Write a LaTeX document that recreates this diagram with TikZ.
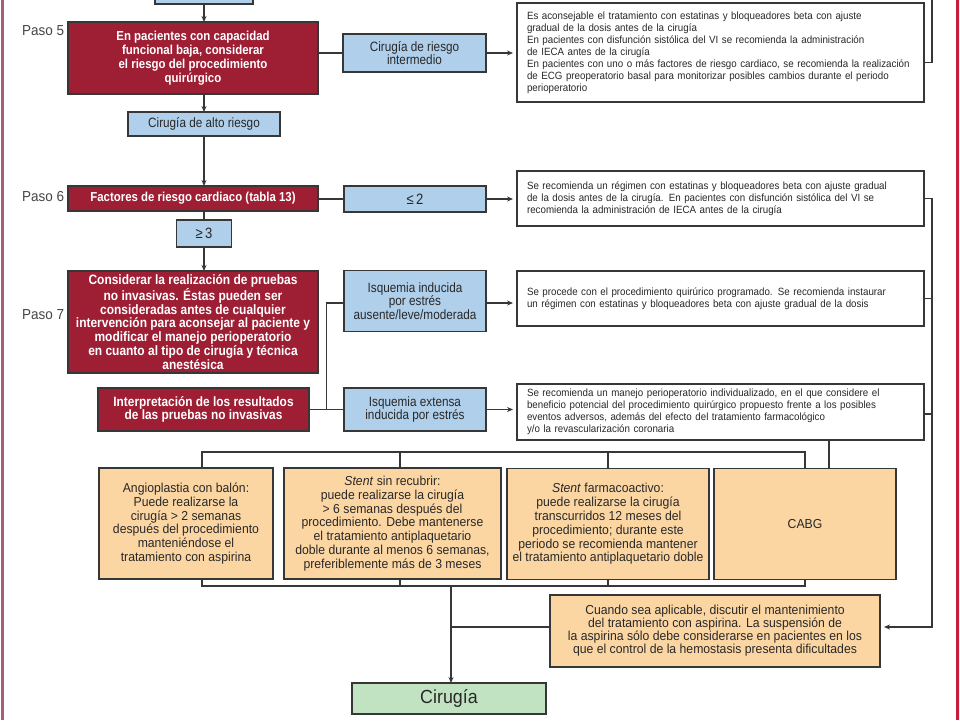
\documentclass[tikz,border=0pt]{standalone}
\usepackage{fontspec}
\setmainfont{Liberation Sans}
\newfontfamily\redfont[FakeStretch=0.88]{Liberation Sans}
\newfontfamily\bluefont[FakeStretch=0.87]{Liberation Sans}
\newfontfamily\whitefont[FakeStretch=0.93]{Liberation Sans}
\newfontfamily\orfont[FakeStretch=0.94]{Liberation Sans}
\newfontfamily\pasofont[FakeStretch=0.93]{Liberation Sans}
\usetikzlibrary{arrows.meta,calc}
\definecolor{redc}{RGB}{158,30,52}
\definecolor{bluec}{RGB}{175,207,235}
\definecolor{orc}{RGB}{251,214,163}
\definecolor{greenc}{RGB}{193,227,193}
\definecolor{linec}{RGB}{55,55,55}
\definecolor{textc}{RGB}{40,40,40}
\definecolor{pasoc}{RGB}{70,70,70}
\definecolor{leftc}{RGB}{165,95,125}
\definecolor{rightc}{RGB}{200,30,60}
\begin{document}
\begin{tikzpicture}[x=1pt,y=-1pt,
  box/.style={draw=linec, line width=1.1pt, inner sep=0pt, outer sep=0pt},
  redbox/.style={box, fill=redc, text=white, align=center, font=\redfont\bfseries\fontsize{13}{14}\selectfont},
  bluebox/.style={box, fill=bluec, text=textc, align=center, font=\bluefont\fontsize{13.5}{13.5}\selectfont},
  notebox/.style={box, fill=white, text=textc, align=left, inner xsep=10pt, text width=387pt, font=\whitefont\fontsize{10.5}{12}\selectfont},
  orbox/.style={box, fill=orc, text=textc, align=center, font=\orfont\fontsize{13}{13.8}\selectfont},
  greenbox/.style={box, fill=greenc, text=textc, align=center, font=\orfont\fontsize{19}{21}\selectfont},
  paso/.style={anchor=west, text=pasoc, inner sep=0pt, font=\pasofont\fontsize{14.5}{16}\selectfont},
  conn/.style={draw=linec, line width=1.1pt},
  arr/.style={conn, -{Stealth[length=6pt,width=5pt]}},
  arrg/.style={arr, shorten >=4pt}]
\clip (0,0) rectangle (960,720);
\fill[white] (0,0) rectangle (960,720);
% page borders
\draw[leftc, line width=3pt] (2.5,0) -- (2.5,720);
\draw[rightc, line width=2.5pt] (957.5,0) -- (957.5,720);

% Paso 5
\node[bluebox, minimum width=98pt, minimum height=24pt] (top) at (204,-8) {};
\node[paso] (l5) at (22,31) {Paso 5};
\node[redbox, minimum width=250pt, minimum height=72pt] (p5) at (193,58)
  {En pacientes con capacidad\\ funcional baja, considerar\\ el riesgo del procedimiento\\ quirúrgico};
\node[bluebox, minimum width=143pt, minimum height=38pt] (cia) at (414.5,53)
  {Cirugía de riesgo\\ intermedio};
\node[notebox, minimum height=99pt] (box1) at (720.5,52.5)
  {Es aconsejable el tratamiento con estatinas y bloqueadores beta con ajuste\\
   gradual de la dosis antes de la cirugía\\
   En pacientes con disfunción sistólica del VI se recomienda la administración\\
   de IECA antes de la cirugía\\
   En pacientes con uno o más factores de riesgo cardiaco, se recomienda la realización\\
   de ECG preoperatorio basal para monitorizar posibles cambios durante el periodo\\
   perioperatorio};
\node[bluebox, minimum width=152pt, minimum height=24pt] (ar) at (204,124)
  {Cirugía de alto riesgo};

% Paso 6
\node[paso] (l6) at (22,197) {Paso 6};
\node[redbox, minimum width=250pt, minimum height=25pt] (p6) at (193,198.5)
  {Factores de riesgo cardiaco (tabla 13)};
\node[bluebox, minimum width=142pt, minimum height=26pt, font=\bluefont\fontsize{15}{15}\selectfont] (le2) at (415,199) {≤\,2};
\node[notebox, minimum height=55pt] (box2) at (720.5,198.5)
  {Se recomienda un régimen con estatinas y bloqueadores beta con ajuste gradual\\
   de la dosis antes de la cirugía. En pacientes con disfunción sistólica del VI se\\
   recomienda la administración de IECA antes de la cirugía};
\node[bluebox, minimum width=55pt, minimum height=27pt, font=\bluefont\fontsize{15}{15}\selectfont] (ge3) at (204,233.5) {≥\,3};

% Paso 7
\node[paso] (l7) at (22,315) {Paso 7};
\node[redbox, minimum width=250pt, minimum height=102pt, font=\redfont\bfseries\fontsize{13.6}{11.6}\selectfont] (p7) at (193,322)
  {Considerar la realización de pruebas\\ no invasivas. Éstas pueden ser\\ consideradas antes de cualquier\\ intervención para aconsejar al paciente y\\ modificar el manejo perioperatorio\\ en cuanto al tipo de cirugía y técnica\\ anestésica};
\node[redbox, minimum width=211pt, minimum height=43pt, font=\redfont\bfseries\fontsize{13.5}{13}\selectfont] (interp) at (203.5,409.5)
  {Interpretación de los resultados\\ de las pruebas no invasivas};
\node[bluebox, minimum width=142pt, minimum height=61pt, font=\bluefont\fontsize{13.5}{12.5}\selectfont] (isq1) at (415,301)
  {Isquemia inducida\\ por estrés\\ ausente/leve/moderada};
\node[bluebox, minimum width=142pt, minimum height=43pt] (isq2) at (415,409.5)
  {Isquemia extensa\\ inducida por estrés};
\node[notebox, minimum height=55pt] (box3) at (720.5,298.5)
  {Se procede con el procedimiento quirúrico programado. Se recomienda instaurar\\
   un régimen con estatinas y bloqueadores beta con ajuste gradual de la dosis};
\node[notebox, minimum height=56pt] (box5) at (720.5,412)
  {Se recomienda un manejo perioperatorio individualizado, en el que considere el\\
   beneficio potencial del procedimiento quirúrgico propuesto frente a los posibles\\
   eventos adversos, además del efecto del tratamiento farmacológico\\
   y/o la revascularización coronaria};

% orange boxes
\node[orbox, minimum width=174pt, minimum height=111pt] (angio) at (186,523.5)
  {Angioplastia con balón:\\ Puede realizarse la\\ cirugía > 2 semanas\\ después del procedimiento\\ manteniéndose el\\ tratamiento con aspirina};
\node[orbox, minimum width=217pt, minimum height=111pt] (st1) at (392.5,523.5)
  {\textit{Stent} sin recubrir:\\ puede realizarse la cirugía\\ > 6 semanas después del\\ procedimiento. Debe mantenerse\\ el tratamiento antiplaquetario\\ doble durante al menos 6 semanas,\\ preferiblemente más de 3 meses};
\node[orbox, minimum width=202pt, minimum height=111pt] (st2) at (608,524)
  {\textit{Stent} farmacoactivo:\\ puede realizarse la cirugía\\ transcurridos 12 meses del\\ procedimiento; durante este\\ periodo se recomienda mantener\\ el tratamiento antiplaquetario doble};
\node[orbox, minimum width=182pt, minimum height=111pt] (cabg) at (805,524) {CABG};
\node[orbox, minimum width=330pt, minimum height=72pt, font=\orfont\fontsize{13}{13}\selectfont] (cuando) at (715,631)
  {Cuando sea aplicable, discutir el mantenimiento\\ del tratamiento con aspirina. La suspensión de\\ la aspirina sólo debe considerarse en pacientes en los\\ que el control de la hemostasis presenta dificultades};
\node[greenbox, minimum width=194pt, minimum height=31pt] (cir) at (449,698.5) {Cirugía};

% coordinates for free ends and buses
\coordinate (in1) at (932,-2);
\coordinate (rc) at (932,627);
\coordinate (bb) at (451,586);

% main vertical flow
\draw[arr] (top.south) -- (top.south |- p5.north);
\draw[arr] (p5.south -| ar.north) -- (ar.north);
\draw[arr] (ar.south) -- (ar.south |- p6.north);
\draw[conn] (ge3.north |- p6.south) -- (ge3.north);
\draw[arr] (ge3.south) -- (ge3.south |- p7.north);

% horizontal branches
\draw[conn] (p5.east |- cia.west) -- (cia.west);
\draw[arrg] (cia.east) -- (cia.east -| box1.west);
\draw[conn] (p6.east |- le2.west) -- (le2.west);
\draw[arrg] (le2.east) -- (le2.east -| box2.west);
\draw[conn] (interp.east) -- (isq2.west);
\draw[conn] ($(interp.east)!0.5!(isq2.west)$) |- ([yshift=-2pt]isq1.west);
\draw[arrg] ([yshift=-2pt]isq1.east) -- ([yshift=-2pt]isq1.east -| box3.west);
\draw[arrg] (isq2.east) -- (isq2.east -| box5.west);

% right side collector
\draw[conn] (in1) |- ([yshift=-10pt]box1.east);
\draw[arrg] (box2.east) -| (rc) -- (rc -| cuando.east);
\draw[conn] (box3.east) -- (box3.east -| rc);
\draw[conn] ([yshift=-2pt]box5.east) -- ([yshift=-2pt]box5.east -| rc);
\draw[conn] ([xshift=24pt]cabg.north) -- ([xshift=24pt]cabg.north |- box5.south);

% top bus
\draw[conn] ([xshift=16pt]angio.north) -- ++(0,-16) -| (cabg.north);
\draw[conn] ([xshift=7.5pt]st1.north) -- ++(0,-16);
\draw[conn] (st2.north) -- ++(0,-16);
% bottom bus
\draw[conn] ([xshift=16pt]angio.south) -- ++(0,7) -| (cabg.south);
\draw[conn] ([xshift=7.5pt]st1.south) -- ++(0,7);
\draw[conn] (st2.south) -- ++(0,7);
\draw[arr] (bb) -- (bb |- cir.north);
\draw[conn] (cuando.west |- rc) -- (rc -| bb);
\end{tikzpicture}
\end{document}
